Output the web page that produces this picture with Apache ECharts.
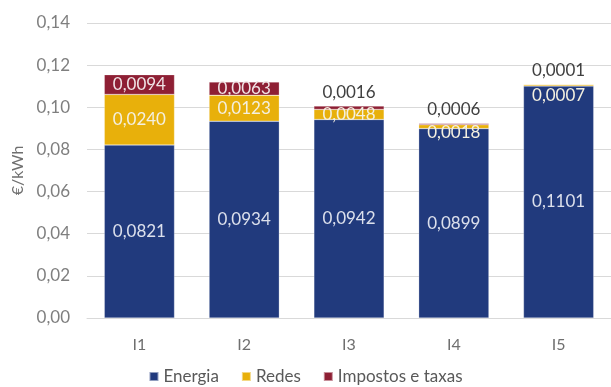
<!DOCTYPE html>
<html><head><meta charset="utf-8">
<script src="https://cdn.jsdelivr.net/npm/echarts@6/dist/echarts.min.js"></script>
<style>html,body{margin:0;padding:0;background:#fff}#c{width:611px;height:387px}</style>
</head><body><div id="c"></div>
<script>
var categories = ['I1','I2','I3','I4','I5'];
var energia = [0.0821, 0.0934, 0.0942, 0.0899, 0.1101];
var redes = [0.0240, 0.0123, 0.0048, 0.0018, 0.0007];
var impostos = [0.0094, 0.0063, 0.0016, 0.0006, 0.0001];
var seriesNames = ['Energia', 'Redes', 'Impostos e taxas'];

var FONT = 'Lato';
function fmt4(v){ return v.toFixed(4).replace('.', ','); }

var redesData = redes.map(function(v, i){
  var d = {value: v};
  if (i === 3) d.label = {offset: [0, 6]};
  if (i === 4) d.label = {offset: [0, 10]};
  return d;
});
var impData = impostos.map(function(v, i){
  var d = {value: v};
  if (i >= 2) d.label = {position: 'top', distance: 5, color: '#404040'};
  return d;
});

var chart = echarts.init(document.getElementById('c'), null, {renderer: 'canvas'});
chart.setOption({
  animation: false,
  textStyle: {fontFamily: FONT},
  grid: {left: 87, right: 0, top: 23, bottom: 69, containLabel: false},
  legend: {
    data: seriesNames,
    bottom: -3,
    left: 'center',
    itemWidth: 9, itemHeight: 9, itemGap: 22,
    icon: 'rect',
    textStyle: {fontFamily: FONT, fontSize: 17, color: '#595959'}
  },
  xAxis: {
    type: 'category',
    data: categories,
    axisLine: {lineStyle: {color: '#d9d9d9'}},
    axisTick: {show: false},
    axisLabel: {fontFamily: FONT, fontSize: 16, color: '#6f6f6f', margin: 19}
  },
  yAxis: {
    type: 'value',
    min: 0, max: 0.14, interval: 0.02,
    name: '€/kWh',
    nameLocation: 'middle',
    nameGap: 58,
    nameRotate: 90,
    nameTextStyle: {fontFamily: FONT, fontSize: 16, color: '#6f6f6f'},
    axisLine: {show: false},
    axisTick: {show: false},
    splitLine: {lineStyle: {color: '#d9d9d9'}},
    axisLabel: {fontFamily: FONT, fontSize: 17, color: '#7f7f7f', margin: 17,
      formatter: function(v){ return v.toFixed(2).replace('.', ','); }}
  },
  series: [
    {name: seriesNames[0], type: 'bar', stack: 't', barWidth: '67%', data: energia,
     itemStyle: {color: '#213A7D', borderColor: 'rgba(255,255,255,0.5)', borderWidth: 0.5},
     label: {show: true, position: 'inside', fontFamily: FONT, fontSize: 17, color: '#DCE0EC',
       formatter: function(p){ return fmt4(p.value); }}},
    {name: seriesNames[1], type: 'bar', stack: 't', data: redesData,
     itemStyle: {color: '#E8B00B', borderColor: 'rgba(255,255,255,0.5)', borderWidth: 0.5},
     label: {show: true, position: 'inside', fontFamily: FONT, fontSize: 17, color: '#F4F0E0',
       formatter: function(p){ return fmt4(p.value); }}},
    {name: seriesNames[2], type: 'bar', stack: 't', data: impData,
     itemStyle: {color: '#8E1F34', borderColor: 'rgba(255,255,255,0.5)', borderWidth: 0.5},
     label: {show: true, position: 'inside', fontFamily: FONT, fontSize: 17, color: '#F0E4E6',
       formatter: function(p){ return fmt4(p.value); }}}
  ]
});
</script></body></html>
